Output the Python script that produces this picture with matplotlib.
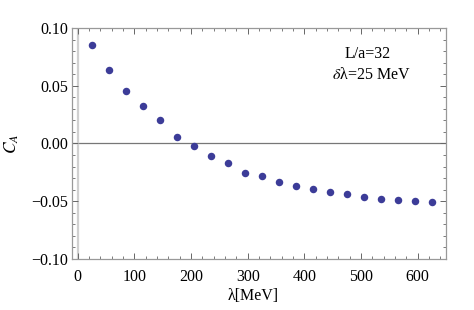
#importing required libraries
import matplotlib.pyplot as plt
from matplotlib.ticker import MultipleLocator

#data
lam = [25, 55, 85, 115, 145, 175, 205, 235, 265, 295, 325,
       355, 385, 415, 445, 475, 505, 535, 565, 595, 625]
c_a = [0.0850, 0.0634, 0.0452, 0.0322, 0.0203, 0.0056, -0.0022, -0.0106,
       -0.0172, -0.0255, -0.0281, -0.0336, -0.0365, -0.0391, -0.0420,
       -0.0440, -0.0460, -0.0478, -0.0486, -0.0495, -0.0509]

plt.rcParams['font.family'] = ['Liberation Serif', 'DejaVu Serif']
plt.rcParams['mathtext.fontset'] = 'stix'

fig = plt.figure(figsize=(4.74, 3.10), dpi=100)
ax = fig.add_axes([0.152, 0.1645, 0.789, 0.7452])

#axes through the origin, mathematica style
ax.axhline(0, color='#777777', lw=0.9, zorder=1)
ax.axvline(0, color='#d0d0d0', lw=1.6, zorder=1)

ax.plot(lam, c_a, 'o', color='#3c3c98', ms=5.4, mec='none', zorder=3)

ax.set_xlim(-10, 650)
ax.set_ylim(-0.1, 0.1)
ax.xaxis.set_major_locator(MultipleLocator(100))
ax.xaxis.set_minor_locator(MultipleLocator(20))
ax.yaxis.set_major_locator(MultipleLocator(0.05))
ax.yaxis.set_minor_locator(MultipleLocator(0.01))

def yfmt(v, pos):
    if abs(v) < 1e-9:
        return '0.00'
    return ('%.2f' % v).replace('-', '\u2212')

ax.yaxis.set_major_formatter(plt.FuncFormatter(yfmt))

for s in ax.spines.values():
    s.set_color('#999999')
    s.set_linewidth(0.9)
ax.tick_params(which='both', direction='in', top=True, right=True,
               color='#666666', labelsize=11.5)
ax.tick_params(axis='x', which='major', pad=7)
ax.tick_params(axis='y', which='major', pad=3)
ax.tick_params(which='major', length=4, width=0.7)
ax.tick_params(which='minor', length=2.2, width=0.6)

#labels and annotation
ax.set_xlabel(r'λ[MeV]', fontsize=11.5, labelpad=3)
ax.xaxis.set_label_coords(0.485, -0.125)
ax.set_ylabel(r'$C_A$', fontsize=12.5, labelpad=7)
ax.text(0.79, 0.87, 'L/a=32', transform=ax.transAxes, ha='center', fontsize=11.5)
ax.text(0.80, 0.78, r'$\delta$λ=25 MeV', transform=ax.transAxes, ha='center', fontsize=11.5)

#saving the figure
fig.savefig('out.png', dpi=100)
